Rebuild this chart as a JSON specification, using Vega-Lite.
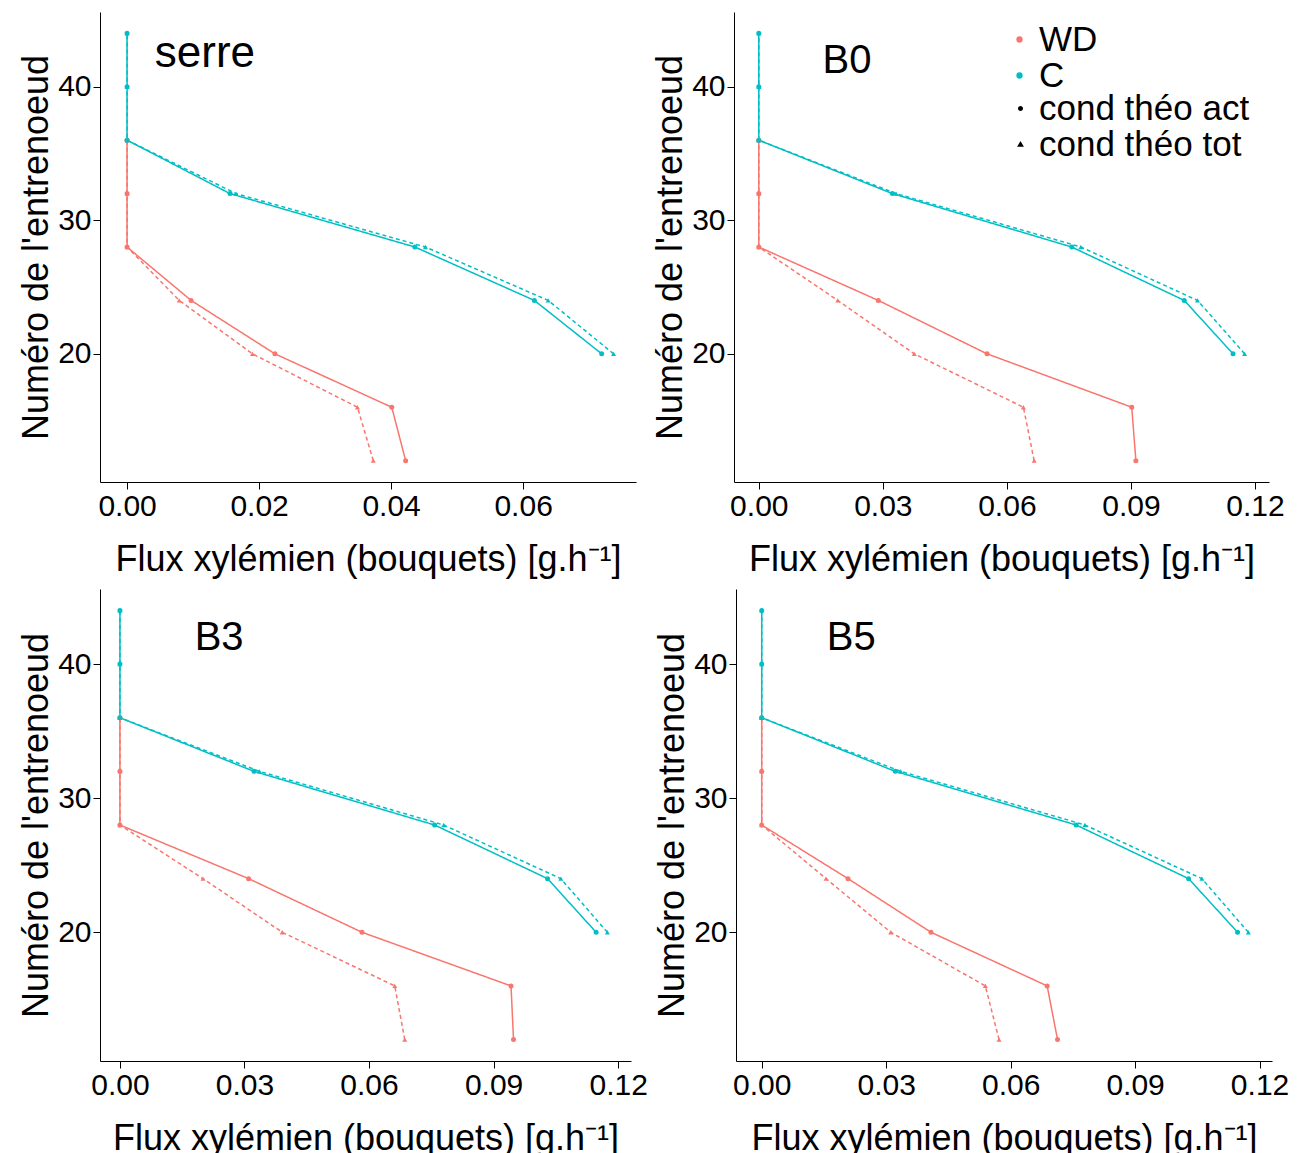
{
  "$schema": "https://vega.github.io/schema/vega-lite/v6.json",
  "padding": {"left": 18, "top": 12, "right": 0, "bottom": 0},
  "autosize": {"type": "pad"},
  "background": "white",
  "data": {"values": [
    {"panel":"serre","groupe":"WD","cond":"cond théo act","entrenoeud":36,"flux":0},
    {"panel":"serre","groupe":"WD","cond":"cond théo act","entrenoeud":32,"flux":0},
    {"panel":"serre","groupe":"WD","cond":"cond théo act","entrenoeud":28,"flux":0},
    {"panel":"serre","groupe":"WD","cond":"cond théo act","entrenoeud":24,"flux":0.0097},
    {"panel":"serre","groupe":"WD","cond":"cond théo act","entrenoeud":20,"flux":0.0224},
    {"panel":"serre","groupe":"WD","cond":"cond théo act","entrenoeud":16,"flux":0.0401},
    {"panel":"serre","groupe":"WD","cond":"cond théo act","entrenoeud":12,"flux":0.0422},
    {"panel":"serre","groupe":"WD","cond":"cond théo tot","entrenoeud":36,"flux":0},
    {"panel":"serre","groupe":"WD","cond":"cond théo tot","entrenoeud":32,"flux":0},
    {"panel":"serre","groupe":"WD","cond":"cond théo tot","entrenoeud":28,"flux":0},
    {"panel":"serre","groupe":"WD","cond":"cond théo tot","entrenoeud":24,"flux":0.0079},
    {"panel":"serre","groupe":"WD","cond":"cond théo tot","entrenoeud":20,"flux":0.0190},
    {"panel":"serre","groupe":"WD","cond":"cond théo tot","entrenoeud":16,"flux":0.0349},
    {"panel":"serre","groupe":"WD","cond":"cond théo tot","entrenoeud":12,"flux":0.0373},
    {"panel":"serre","groupe":"C","cond":"cond théo act","entrenoeud":44,"flux":0},
    {"panel":"serre","groupe":"C","cond":"cond théo act","entrenoeud":40,"flux":0},
    {"panel":"serre","groupe":"C","cond":"cond théo act","entrenoeud":36,"flux":0},
    {"panel":"serre","groupe":"C","cond":"cond théo act","entrenoeud":32,"flux":0.0156},
    {"panel":"serre","groupe":"C","cond":"cond théo act","entrenoeud":28,"flux":0.0436},
    {"panel":"serre","groupe":"C","cond":"cond théo act","entrenoeud":24,"flux":0.0617},
    {"panel":"serre","groupe":"C","cond":"cond théo act","entrenoeud":20,"flux":0.0719},
    {"panel":"serre","groupe":"C","cond":"cond théo tot","entrenoeud":44,"flux":0},
    {"panel":"serre","groupe":"C","cond":"cond théo tot","entrenoeud":40,"flux":0},
    {"panel":"serre","groupe":"C","cond":"cond théo tot","entrenoeud":36,"flux":0},
    {"panel":"serre","groupe":"C","cond":"cond théo tot","entrenoeud":32,"flux":0.0165},
    {"panel":"serre","groupe":"C","cond":"cond théo tot","entrenoeud":28,"flux":0.0452},
    {"panel":"serre","groupe":"C","cond":"cond théo tot","entrenoeud":24,"flux":0.0638},
    {"panel":"serre","groupe":"C","cond":"cond théo tot","entrenoeud":20,"flux":0.0737},

    {"panel":"B0","groupe":"WD","cond":"cond théo act","entrenoeud":36,"flux":0},
    {"panel":"B0","groupe":"WD","cond":"cond théo act","entrenoeud":32,"flux":0},
    {"panel":"B0","groupe":"WD","cond":"cond théo act","entrenoeud":28,"flux":0},
    {"panel":"B0","groupe":"WD","cond":"cond théo act","entrenoeud":24,"flux":0.0289},
    {"panel":"B0","groupe":"WD","cond":"cond théo act","entrenoeud":20,"flux":0.0552},
    {"panel":"B0","groupe":"WD","cond":"cond théo act","entrenoeud":16,"flux":0.0902},
    {"panel":"B0","groupe":"WD","cond":"cond théo act","entrenoeud":12,"flux":0.0912},
    {"panel":"B0","groupe":"WD","cond":"cond théo tot","entrenoeud":36,"flux":0},
    {"panel":"B0","groupe":"WD","cond":"cond théo tot","entrenoeud":32,"flux":0},
    {"panel":"B0","groupe":"WD","cond":"cond théo tot","entrenoeud":28,"flux":0},
    {"panel":"B0","groupe":"WD","cond":"cond théo tot","entrenoeud":24,"flux":0.0191},
    {"panel":"B0","groupe":"WD","cond":"cond théo tot","entrenoeud":20,"flux":0.0376},
    {"panel":"B0","groupe":"WD","cond":"cond théo tot","entrenoeud":16,"flux":0.0640},
    {"panel":"B0","groupe":"WD","cond":"cond théo tot","entrenoeud":12,"flux":0.0666},
    {"panel":"B0","groupe":"C","cond":"cond théo act","entrenoeud":44,"flux":0},
    {"panel":"B0","groupe":"C","cond":"cond théo act","entrenoeud":40,"flux":0},
    {"panel":"B0","groupe":"C","cond":"cond théo act","entrenoeud":36,"flux":0},
    {"panel":"B0","groupe":"C","cond":"cond théo act","entrenoeud":32,"flux":0.0323},
    {"panel":"B0","groupe":"C","cond":"cond théo act","entrenoeud":28,"flux":0.0757},
    {"panel":"B0","groupe":"C","cond":"cond théo act","entrenoeud":24,"flux":0.1029},
    {"panel":"B0","groupe":"C","cond":"cond théo act","entrenoeud":20,"flux":0.1147},
    {"panel":"B0","groupe":"C","cond":"cond théo tot","entrenoeud":44,"flux":0},
    {"panel":"B0","groupe":"C","cond":"cond théo tot","entrenoeud":40,"flux":0},
    {"panel":"B0","groupe":"C","cond":"cond théo tot","entrenoeud":36,"flux":0},
    {"panel":"B0","groupe":"C","cond":"cond théo tot","entrenoeud":32,"flux":0.0332},
    {"panel":"B0","groupe":"C","cond":"cond théo tot","entrenoeud":28,"flux":0.0779},
    {"panel":"B0","groupe":"C","cond":"cond théo tot","entrenoeud":24,"flux":0.1061},
    {"panel":"B0","groupe":"C","cond":"cond théo tot","entrenoeud":20,"flux":0.1175},

    {"panel":"B3","groupe":"WD","cond":"cond théo act","entrenoeud":36,"flux":0},
    {"panel":"B3","groupe":"WD","cond":"cond théo act","entrenoeud":32,"flux":0},
    {"panel":"B3","groupe":"WD","cond":"cond théo act","entrenoeud":28,"flux":0},
    {"panel":"B3","groupe":"WD","cond":"cond théo act","entrenoeud":24,"flux":0.0310},
    {"panel":"B3","groupe":"WD","cond":"cond théo act","entrenoeud":20,"flux":0.0583},
    {"panel":"B3","groupe":"WD","cond":"cond théo act","entrenoeud":16,"flux":0.0942},
    {"panel":"B3","groupe":"WD","cond":"cond théo act","entrenoeud":12,"flux":0.0948},
    {"panel":"B3","groupe":"WD","cond":"cond théo tot","entrenoeud":36,"flux":0},
    {"panel":"B3","groupe":"WD","cond":"cond théo tot","entrenoeud":32,"flux":0},
    {"panel":"B3","groupe":"WD","cond":"cond théo tot","entrenoeud":28,"flux":0},
    {"panel":"B3","groupe":"WD","cond":"cond théo tot","entrenoeud":24,"flux":0.0200},
    {"panel":"B3","groupe":"WD","cond":"cond théo tot","entrenoeud":20,"flux":0.0391},
    {"panel":"B3","groupe":"WD","cond":"cond théo tot","entrenoeud":16,"flux":0.0662},
    {"panel":"B3","groupe":"WD","cond":"cond théo tot","entrenoeud":12,"flux":0.0686},
    {"panel":"B3","groupe":"C","cond":"cond théo act","entrenoeud":44,"flux":0},
    {"panel":"B3","groupe":"C","cond":"cond théo act","entrenoeud":40,"flux":0},
    {"panel":"B3","groupe":"C","cond":"cond théo act","entrenoeud":36,"flux":0},
    {"panel":"B3","groupe":"C","cond":"cond théo act","entrenoeud":32,"flux":0.0323},
    {"panel":"B3","groupe":"C","cond":"cond théo act","entrenoeud":28,"flux":0.0758},
    {"panel":"B3","groupe":"C","cond":"cond théo act","entrenoeud":24,"flux":0.1030},
    {"panel":"B3","groupe":"C","cond":"cond théo act","entrenoeud":20,"flux":0.1147},
    {"panel":"B3","groupe":"C","cond":"cond théo tot","entrenoeud":44,"flux":0},
    {"panel":"B3","groupe":"C","cond":"cond théo tot","entrenoeud":40,"flux":0},
    {"panel":"B3","groupe":"C","cond":"cond théo tot","entrenoeud":36,"flux":0},
    {"panel":"B3","groupe":"C","cond":"cond théo tot","entrenoeud":32,"flux":0.0336},
    {"panel":"B3","groupe":"C","cond":"cond théo tot","entrenoeud":28,"flux":0.0780},
    {"panel":"B3","groupe":"C","cond":"cond théo tot","entrenoeud":24,"flux":0.1062},
    {"panel":"B3","groupe":"C","cond":"cond théo tot","entrenoeud":20,"flux":0.1174},

    {"panel":"B5","groupe":"WD","cond":"cond théo act","entrenoeud":36,"flux":0},
    {"panel":"B5","groupe":"WD","cond":"cond théo act","entrenoeud":32,"flux":0},
    {"panel":"B5","groupe":"WD","cond":"cond théo act","entrenoeud":28,"flux":0},
    {"panel":"B5","groupe":"WD","cond":"cond théo act","entrenoeud":24,"flux":0.0208},
    {"panel":"B5","groupe":"WD","cond":"cond théo act","entrenoeud":20,"flux":0.0408},
    {"panel":"B5","groupe":"WD","cond":"cond théo act","entrenoeud":16,"flux":0.0688},
    {"panel":"B5","groupe":"WD","cond":"cond théo act","entrenoeud":12,"flux":0.0713},
    {"panel":"B5","groupe":"WD","cond":"cond théo tot","entrenoeud":36,"flux":0},
    {"panel":"B5","groupe":"WD","cond":"cond théo tot","entrenoeud":32,"flux":0},
    {"panel":"B5","groupe":"WD","cond":"cond théo tot","entrenoeud":28,"flux":0},
    {"panel":"B5","groupe":"WD","cond":"cond théo tot","entrenoeud":24,"flux":0.0155},
    {"panel":"B5","groupe":"WD","cond":"cond théo tot","entrenoeud":20,"flux":0.0311},
    {"panel":"B5","groupe":"WD","cond":"cond théo tot","entrenoeud":16,"flux":0.0539},
    {"panel":"B5","groupe":"WD","cond":"cond théo tot","entrenoeud":12,"flux":0.0572},
    {"panel":"B5","groupe":"C","cond":"cond théo act","entrenoeud":44,"flux":0},
    {"panel":"B5","groupe":"C","cond":"cond théo act","entrenoeud":40,"flux":0},
    {"panel":"B5","groupe":"C","cond":"cond théo act","entrenoeud":36,"flux":0},
    {"panel":"B5","groupe":"C","cond":"cond théo act","entrenoeud":32,"flux":0.0322},
    {"panel":"B5","groupe":"C","cond":"cond théo act","entrenoeud":28,"flux":0.0758},
    {"panel":"B5","groupe":"C","cond":"cond théo act","entrenoeud":24,"flux":0.1029},
    {"panel":"B5","groupe":"C","cond":"cond théo act","entrenoeud":20,"flux":0.1147},
    {"panel":"B5","groupe":"C","cond":"cond théo tot","entrenoeud":44,"flux":0},
    {"panel":"B5","groupe":"C","cond":"cond théo tot","entrenoeud":40,"flux":0},
    {"panel":"B5","groupe":"C","cond":"cond théo tot","entrenoeud":36,"flux":0},
    {"panel":"B5","groupe":"C","cond":"cond théo tot","entrenoeud":32,"flux":0.0335},
    {"panel":"B5","groupe":"C","cond":"cond théo tot","entrenoeud":28,"flux":0.0779},
    {"panel":"B5","groupe":"C","cond":"cond théo tot","entrenoeud":24,"flux":0.1061},
    {"panel":"B5","groupe":"C","cond":"cond théo tot","entrenoeud":20,"flux":0.1173}
  ]},
  "config": {
    "view": {"stroke": null},
    "font": "Liberation Sans",
    "axis": {"grid": false, "domainColor": "#000", "tickColor": "#000", "domainWidth": 1, "tickWidth": 1, "tickSize": 7, "labelPadding": 2, "labelFont": "Liberation Sans", "labelFontSize": 30, "labelColor": "#000", "titleFont": "Liberation Sans", "titleFontSize": 36, "titleFontWeight": "normal", "titleColor": "#000", "labelFlush": false},
    "axisX": {"titlePadding": 21},
    "axisY": {"titlePadding": 2},
    "legend": {"labelFont": "Liberation Sans", "labelFontSize": 35, "labelColor": "#000", "padding": 0, "labelLimit": 0}
  },
  "spacing": 12,
  "vconcat": [
    {"hconcat": [
      {"width": 536, "height": 470,
       "layer": [
        {"transform": [{"filter": "datum.panel === 'serre'"}],
         "mark": {"type": "line", "strokeWidth": 1.5},
         "encoding": {
           "x": {"field": "flux", "type": "quantitative", "scale": {"domain": [-0.0041, 0.0771], "nice": false, "zero": false}, "axis": {"values": [0, 0.02, 0.04, 0.06], "format": ".2f", "title": "Flux xylémien (bouquets) [g.h⁻¹]"}},
           "y": {"field": "entrenoeud", "type": "quantitative", "scale": {"domain": [10.4, 45.6], "nice": false, "zero": false}, "axis": {"values": [20, 30, 40], "title": "Numéro de l'entrenoeud"}},
           "color": {"field": "groupe", "type": "nominal", "scale": {"domain": ["WD", "C"], "range": ["#F8766D", "#00BFC4"]}},
           "strokeDash": {"field": "cond", "type": "nominal", "scale": {"domain": ["cond théo act", "cond théo tot"], "range": [[1, 0], [4, 3]]}},
           "order": {"field": "entrenoeud", "type": "quantitative"}
         }},
        {"transform": [{"filter": "datum.panel === 'serre' && datum.cond === 'cond théo act'"}],
         "mark": {"type": "point", "filled": true, "size": 25, "opacity": 1, "shape": "circle"},
         "encoding": {
           "x": {"field": "flux", "type": "quantitative"},
           "y": {"field": "entrenoeud", "type": "quantitative"},
           "color": {"field": "groupe", "type": "nominal"}
         }},
        {"transform": [{"filter": "datum.panel === 'serre' && datum.cond === 'cond théo tot'"}],
         "mark": {"type": "point", "filled": true, "size": 25, "opacity": 1, "shape": "triangle-up"},
         "encoding": {
           "x": {"field": "flux", "type": "quantitative"},
           "y": {"field": "entrenoeud", "type": "quantitative"},
           "color": {"field": "groupe", "type": "nominal"}
         }},
        {"data": {"values": [{"label": "serre"}]},
         "mark": {"type": "text", "fontSize": 44, "align": "left", "baseline": "alphabetic", "color": "#000"},
         "encoding": {"x": {"datum": 0.0042}, "y": {"datum": 41.5}, "text": {"field": "label"}}}
       ]},
      {"width": 535, "height": 470,
       "layer": [
        {"transform": [{"filter": "datum.panel === 'B0'"}],
         "mark": {"type": "line", "strokeWidth": 1.5},
         "encoding": {
           "x": {"field": "flux", "type": "quantitative", "scale": {"domain": [-0.006, 0.1234], "nice": false, "zero": false}, "axis": {"values": [0, 0.03, 0.06, 0.09, 0.12], "format": ".2f", "title": "Flux xylémien (bouquets) [g.h⁻¹]"}},
           "y": {"field": "entrenoeud", "type": "quantitative", "scale": {"domain": [10.4, 45.6], "nice": false, "zero": false}, "axis": {"values": [20, 30, 40], "title": "Numéro de l'entrenoeud"}},
           "color": {"field": "groupe", "type": "nominal"},
           "strokeDash": {"field": "cond", "type": "nominal"},
           "order": {"field": "entrenoeud", "type": "quantitative"}
         }},
        {"transform": [{"filter": "datum.panel === 'B0' && datum.cond === 'cond théo act'"}],
         "mark": {"type": "point", "filled": true, "size": 25, "opacity": 1, "shape": "circle"},
         "encoding": {
           "x": {"field": "flux", "type": "quantitative"},
           "y": {"field": "entrenoeud", "type": "quantitative"},
           "color": {"field": "groupe", "type": "nominal", "legend": {"title": null, "orient": "none", "legendX": 902, "legendY": 10, "symbolType": "circle", "symbolSize": 40, "symbolStrokeWidth": 0, "labelOffset": 2, "rowPadding": 0}}
         }},
        {"transform": [{"filter": "datum.panel === 'B0' && datum.cond === 'cond théo tot'"}],
         "mark": {"type": "point", "filled": true, "size": 25, "opacity": 1, "shape": "triangle-up"},
         "encoding": {
           "x": {"field": "flux", "type": "quantitative"},
           "y": {"field": "entrenoeud", "type": "quantitative"},
           "color": {"field": "groupe", "type": "nominal"}
         }},
        {"transform": [{"filter": "false"}],
         "mark": {"type": "point", "filled": true, "color": "#000", "stroke": "#000", "strokeWidth": 1.5, "opacity": 1, "size": 324},
         "encoding": {
           "shape": {"field": "cond", "type": "nominal",
             "scale": {"domain": ["cond théo act", "cond théo tot"], "range": ["M-1,0H1M0.28,0A0.28,0.28,0,1,1,-0.28,0A0.28,0.28,0,1,1,0.28,0Z", "M-1,0H1M0,-0.38L0.38,0.26L-0.38,0.26Z"]},
             "legend": {"title": null, "orient": "none", "legendX": 903, "legendY": 79, "symbolSize": 324, "labelOffset": 1, "rowPadding": 0, "symbolOpacity": 1, "symbolFillColor": "#000", "symbolStrokeColor": "#000", "symbolStrokeWidth": 1.5,
               "encode": {"symbols": {"fill": {"value": "#000"}, "stroke": {"value": "#000"}, "strokeWidth": {"value": 1.5}, "opacity": {"value": 1}, "size": {"value": 324}}}}}
         }},
        {"data": {"values": [{"label": "B0"}]},
         "mark": {"type": "text", "fontSize": 40, "align": "left", "baseline": "alphabetic", "color": "#000"},
         "encoding": {"x": {"datum": 0.0154}, "y": {"datum": 41.0}, "text": {"field": "label"}}}
       ]}
    ], "spacing": 16},
    {"hconcat": [
      {"width": 531, "height": 472,
       "layer": [
        {"transform": [{"filter": "datum.panel === 'B3'"}],
         "mark": {"type": "line", "strokeWidth": 1.5},
         "encoding": {
           "x": {"field": "flux", "type": "quantitative", "scale": {"domain": [-0.0048, 0.1231], "nice": false, "zero": false}, "axis": {"values": [0, 0.03, 0.06, 0.09, 0.12], "format": ".2f", "title": "Flux xylémien (bouquets) [g.h⁻¹]"}},
           "y": {"field": "entrenoeud", "type": "quantitative", "scale": {"domain": [10.4, 45.6], "nice": false, "zero": false}, "axis": {"values": [20, 30, 40], "title": "Numéro de l'entrenoeud"}},
           "color": {"field": "groupe", "type": "nominal"},
           "strokeDash": {"field": "cond", "type": "nominal"},
           "order": {"field": "entrenoeud", "type": "quantitative"}
         }},
        {"transform": [{"filter": "datum.panel === 'B3' && datum.cond === 'cond théo act'"}],
         "mark": {"type": "point", "filled": true, "size": 25, "opacity": 1, "shape": "circle"},
         "encoding": {
           "x": {"field": "flux", "type": "quantitative"},
           "y": {"field": "entrenoeud", "type": "quantitative"},
           "color": {"field": "groupe", "type": "nominal"}
         }},
        {"transform": [{"filter": "datum.panel === 'B3' && datum.cond === 'cond théo tot'"}],
         "mark": {"type": "point", "filled": true, "size": 25, "opacity": 1, "shape": "triangle-up"},
         "encoding": {
           "x": {"field": "flux", "type": "quantitative"},
           "y": {"field": "entrenoeud", "type": "quantitative"},
           "color": {"field": "groupe", "type": "nominal"}
         }},
        {"data": {"values": [{"label": "B3"}]},
         "mark": {"type": "text", "fontSize": 40, "align": "left", "baseline": "alphabetic", "color": "#000"},
         "encoding": {"x": {"datum": 0.018}, "y": {"datum": 41.08}, "text": {"field": "label"}}}
       ]},
      {"width": 536, "height": 472,
       "layer": [
        {"transform": [{"filter": "datum.panel === 'B5'"}],
         "mark": {"type": "line", "strokeWidth": 1.5},
         "encoding": {
           "x": {"field": "flux", "type": "quantitative", "scale": {"domain": [-0.0062, 0.123], "nice": false, "zero": false}, "axis": {"values": [0, 0.03, 0.06, 0.09, 0.12], "format": ".2f", "title": "Flux xylémien (bouquets) [g.h⁻¹]"}},
           "y": {"field": "entrenoeud", "type": "quantitative", "scale": {"domain": [10.4, 45.6], "nice": false, "zero": false}, "axis": {"values": [20, 30, 40], "title": "Numéro de l'entrenoeud"}},
           "color": {"field": "groupe", "type": "nominal"},
           "strokeDash": {"field": "cond", "type": "nominal"},
           "order": {"field": "entrenoeud", "type": "quantitative"}
         }},
        {"transform": [{"filter": "datum.panel === 'B5' && datum.cond === 'cond théo act'"}],
         "mark": {"type": "point", "filled": true, "size": 25, "opacity": 1, "shape": "circle"},
         "encoding": {
           "x": {"field": "flux", "type": "quantitative"},
           "y": {"field": "entrenoeud", "type": "quantitative"},
           "color": {"field": "groupe", "type": "nominal"}
         }},
        {"transform": [{"filter": "datum.panel === 'B5' && datum.cond === 'cond théo tot'"}],
         "mark": {"type": "point", "filled": true, "size": 25, "opacity": 1, "shape": "triangle-up"},
         "encoding": {
           "x": {"field": "flux", "type": "quantitative"},
           "y": {"field": "entrenoeud", "type": "quantitative"},
           "color": {"field": "groupe", "type": "nominal"}
         }},
        {"data": {"values": [{"label": "B5"}]},
         "mark": {"type": "text", "fontSize": 40, "align": "left", "baseline": "alphabetic", "color": "#000"},
         "encoding": {"x": {"datum": 0.0157}, "y": {"datum": 41.08}, "text": {"field": "label"}}}
       ]}
    ], "spacing": 6}
  ]
}
